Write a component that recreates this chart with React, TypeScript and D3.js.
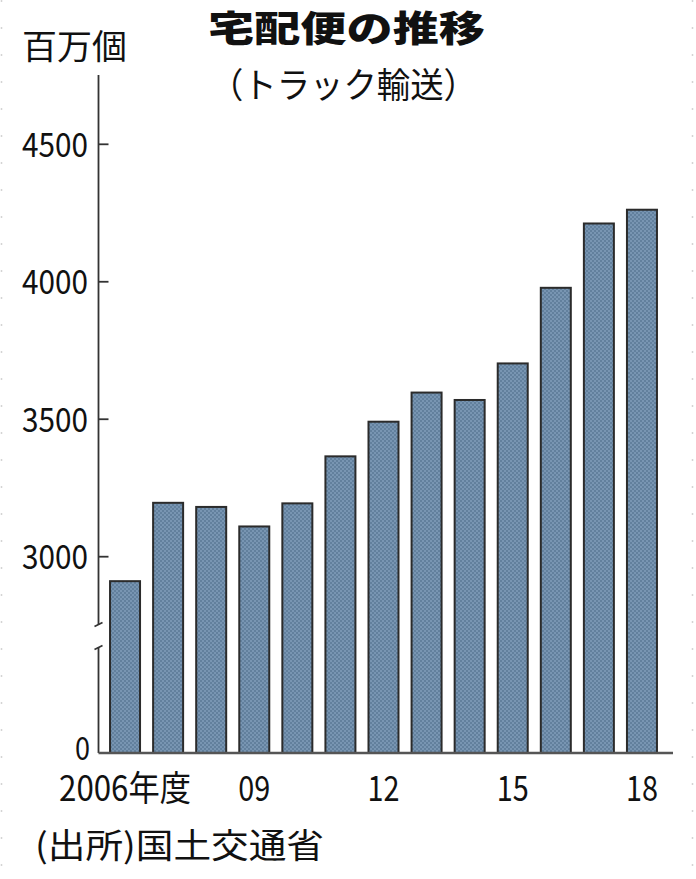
import React, { useEffect, useRef } from 'react';
import * as d3 from 'd3';

const years = ['2006', '2007', '2008', '2009', '2010', '2011', '2012', '2013', '2014', '2015', '2016', '2017', '2018'];
const parcels = [2911, 3196, 3181, 3110, 3194, 3365, 3491, 3597, 3570, 3703, 3978, 4212, 4262];
const yTicks = [3000, 3500, 4000, 4500];
const xLabels: Record<string, string> = { '2006': '2006年度', '2009': '09', '2012': '12', '2015': '15', '2018': '18' };

const JP = '"Noto Sans CJK JP", "Noto Sans", sans-serif';

const App: React.FC = () => {
  const svgRef = useRef<SVGSVGElement>(null);

  useEffect(() => {
    if (!svgRef.current) return;
    const width = 696;
    const height = 879;
    const axisX = 98.5;
    const baseY = 753;

    const svg = d3.select(svgRef.current);
    svg.selectAll('*').remove();
    svg.attr('width', width).attr('height', height);

    svg.append('rect').attr('width', width).attr('height', height).attr('fill', '#fff');

    // faint dashed page edges
    [1.5, 692.5].forEach(x => {
      svg.append('line')
        .attr('x1', x).attr('x2', x).attr('y1', 0).attr('y2', height)
        .attr('stroke', '#d4d4d4').attr('stroke-width', 1.5)
        .attr('stroke-dasharray', '2,25');
    });

    // checker texture for bars
    const defs = svg.append('defs');
    const pat = defs.append('pattern')
      .attr('id', 'checker').attr('width', 4).attr('height', 4)
      .attr('patternUnits', 'userSpaceOnUse');
    pat.append('rect').attr('width', 4).attr('height', 4).attr('fill', '#7895b2');
    pat.append('rect').attr('width', 2).attr('height', 2).attr('fill', '#62809d');
    pat.append('rect').attr('x', 2).attr('y', 2).attr('width', 2).attr('height', 2).attr('fill', '#62809d');

    const x = d3.scaleBand<string>()
      .domain(years)
      .range([103.5, 663.5])
      .paddingInner(0.3036)
      .paddingOuter(0.1518);

    const y = d3.scaleLinear().domain([3000, 4500]).range([556.7, 144.3]);

    // title
    svg.append('text')
      .attr('x', 208).attr('y', 42)
      .attr('textLength', 277).attr('lengthAdjust', 'spacingAndGlyphs')
      .style('font-family', JP).style('font-size', '36px').style('font-weight', 900)
      .attr('fill', '#111')
      .text('宅配便の推移');
    svg.append('text')
      .attr('x', 210).attr('y', 98)
      .attr('textLength', 267).attr('lengthAdjust', 'spacingAndGlyphs')
      .style('font-family', JP).style('font-size', '35px').style('font-weight', 400)
      .attr('fill', '#111')
      .text('（トラック輸送）');

    // unit
    svg.append('text')
      .attr('x', 22).attr('y', 59)
      .attr('textLength', 105).attr('lengthAdjust', 'spacingAndGlyphs')
      .style('font-family', JP).style('font-size', '34px')
      .attr('fill', '#111')
      .text('百万個');

    // bars
    svg.append('g').selectAll('rect')
      .data(years.map((yr, i) => ({ yr, v: parcels[i] })))
      .enter().append('rect')
      .attr('x', d => x(d.yr) as number)
      .attr('width', x.bandwidth())
      .attr('y', d => y(d.v))
      .attr('height', d => baseY - y(d.v))
      .attr('fill', 'url(#checker)')
      .attr('stroke', '#2b2b2b')
      .attr('stroke-width', 2);

    // y axis with break
    const axis = svg.append('g').attr('stroke', '#333').attr('stroke-width', 1.8).attr('fill', 'none');
    axis.append('line').attr('x1', axisX).attr('x2', axisX).attr('y1', 75).attr('y2', 625);
    axis.append('line').attr('x1', axisX).attr('x2', axisX).attr('y1', 647).attr('y2', baseY);
    axis.append('line').attr('x1', axisX - 4).attr('x2', axisX + 4).attr('y1', 626.5).attr('y2', 622.5);
    axis.append('line').attr('x1', axisX - 4).attr('x2', axisX + 4).attr('y1', 649.5).attr('y2', 645.5);
    axis.selectAll('.tick')
      .data(yTicks)
      .enter().append('line')
      .attr('x1', axisX).attr('x2', axisX + 10)
      .attr('y1', d => y(d)).attr('y2', d => y(d));

    // baseline
    svg.append('line')
      .attr('x1', axisX).attr('x2', 673)
      .attr('y1', baseY).attr('y2', baseY)
      .attr('stroke', '#555').attr('stroke-width', 2.5);

    // y labels
    svg.append('g').selectAll('text')
      .data(yTicks)
      .enter().append('text')
      .attr('x', 88).attr('y', d => y(d) + 12.5)
      .attr('text-anchor', 'end')
      .attr('textLength', 66).attr('lengthAdjust', 'spacingAndGlyphs')
      .style('font-family', JP).style('font-size', '34px')
      .attr('fill', '#111')
      .text(d => String(d));
    svg.append('text')
      .attr('x', 90).attr('y', 760)
      .attr('text-anchor', 'end')
      .attr('textLength', 15).attr('lengthAdjust', 'spacingAndGlyphs')
      .style('font-family', JP).style('font-size', '32px')
      .attr('fill', '#111')
      .text('0');

    // x labels
    svg.append('g').selectAll('text')
      .data(years.filter(yr => xLabels[yr]))
      .enter().append('text')
      .attr('x', d => (x(d) as number) + x.bandwidth() / 2)
      .attr('y', 801)
      .attr('text-anchor', 'middle')
      .attr('textLength', d => d === '2006' ? 132 : 32)
      .attr('lengthAdjust', 'spacingAndGlyphs')
      .style('font-family', JP).style('font-size', '35px')
      .attr('fill', '#111')
      .text(d => xLabels[d]);

    // source
    svg.append('text')
      .attr('x', 35).attr('y', 858)
      .attr('textLength', 289).attr('lengthAdjust', 'spacingAndGlyphs')
      .style('font-family', JP).style('font-size', '34px')
      .attr('fill', '#111')
      .text('(出所)国土交通省');
  }, []);

  return (
    <div style={{ position: 'absolute', left: 0, top: 0 }}>
      <svg ref={svgRef} width="696" height="879" style={{ display: 'block' }}></svg>
    </div>
  );
};

export default App;
